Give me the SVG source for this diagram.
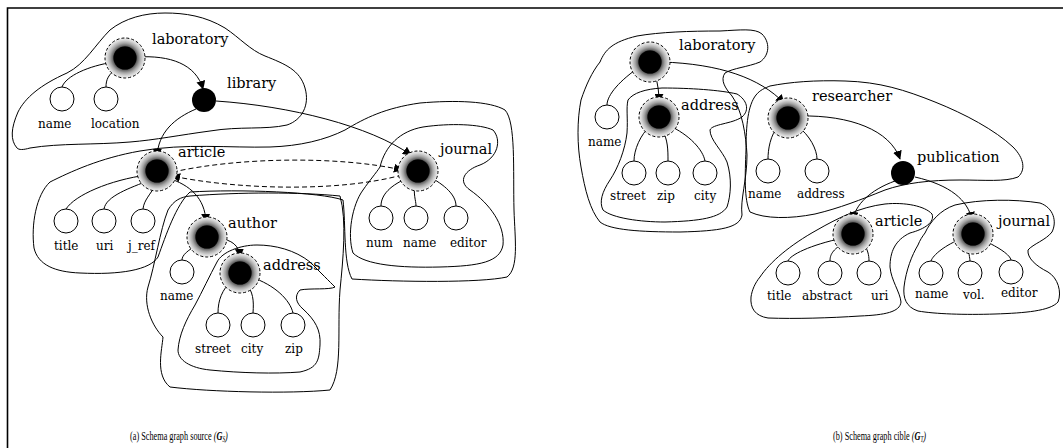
<svg xmlns="http://www.w3.org/2000/svg" width="1063" height="448" viewBox="0 0 1063 448">
<style>
.frame{fill:none;stroke:#000;stroke-width:1.6}
.blob{fill:none;stroke:#000;stroke-width:1}
.edge{fill:none;stroke:#000;stroke-width:1}
.arr{marker-end:url(#ah)}
.dash{stroke-dasharray:5 3}
.leaf{fill:#fff;stroke:#000;stroke-width:1}
.core{fill:#000}
.ring{fill:url(#halo);stroke:#000;stroke-width:1;stroke-dasharray:3 2}
.lbl{font-family:"DejaVu Serif","Liberation Serif",serif;font-size:14.5px;fill:#000}
.sm{font-family:"DejaVu Serif","Liberation Serif",serif;font-size:12px;fill:#000}
.cap{font-family:"Liberation Serif",serif;font-size:12.5px;fill:#000}
</style>
<defs>
<radialGradient id="halo" cx="0.5" cy="0.5" r="0.5">
<stop offset="0" stop-color="#000"/>
<stop offset="0.56" stop-color="#333"/>
<stop offset="0.62" stop-color="#6a6a6a"/>
<stop offset="0.74" stop-color="#a4a4a4"/>
<stop offset="0.88" stop-color="#d4d4d4"/>
<stop offset="1" stop-color="#f0f0f0"/>
</radialGradient>
<marker id="ah" viewBox="0 0 10 10" refX="9" refY="5" markerWidth="9" markerHeight="9" markerUnits="userSpaceOnUse" orient="auto">
<path d="M0,0 L10,5 L0,10 Z" fill="#000"/>
</marker>
<g id="cn">
<circle r="20" class="ring"/>
<circle r="11.5" class="core"/>
</g>
</defs>
<rect width="1063" height="448" fill="#fff"/>
<path class="frame" d="M7.5,448 V8 H1063"/>

<g id="clusters">
<!-- left: laboratory -->
<path class="blob" d="M17,148 C10,140 11,128 18,112 C25,98 40,85 67,73 C85,64 95,45 110,30 C125,18 145,13 165,13 C185,13 205,16 225,28 C240,38 250,50 265,56 C285,64 300,70 305,88 C310,105 302,120 287,125 C265,130 240,126 210,131 C180,135 155,140 130,142 C95,145 60,143 30,148 C23,150 19,150 17,148 Z"/>
<!-- left: article (with journal) -->
<path class="blob" d="M50,182 C70,172 100,158 140,151 C185,143 230,148 270,147 C300,146 325,140 345,130 C365,118 385,108 420,103 C455,100 490,101 505,110 C516,122 513,170 514,210 C515,240 519,268 507,277 C480,283 400,282 352,279 C343,262 346,225 343,200 C320,192 240,189 190,192 C176,205 166,235 158,257 C150,270 120,275 80,273 C55,272 38,265 34,248 C31,225 36,195 50,182 Z"/>
<!-- left: journal inner -->
<path class="blob" d="M380,167 C385,146 400,131 423,127 C450,123 480,124 493,130 C502,140 498,158 480,165 C465,170 457,181 470,190 C490,204 505,225 503,245 C500,262 480,266 440,267 C400,268 365,265 353,253 C347,235 352,205 363,190 C370,180 376,173 380,167 Z"/>
<!-- left: author -->
<path class="blob" d="M190,196 C240,192 300,192 340,196 C347,220 343,260 340,290 C337,330 343,370 330,390 C290,394 210,392 170,387 C155,375 162,350 163,337 C152,326 143,305 148,287 C155,265 160,230 168,210 C174,200 181,197 190,196 Z"/>
<!-- left: address -->
<path class="blob" d="M217,262 C222,252 240,245 257,245 C275,245 295,250 310,262 C320,272 330,282 335,287 C330,290 310,288 300,290 C294,296 296,303 303,309 C315,320 321,330 320,345 C319,360 318,368 300,372 C275,374 240,373 210,370 C190,368 178,360 178,350 C179,335 186,320 195,305 C202,292 210,275 217,262 Z"/>

<!-- right: laboratory -->
<path class="blob" d="M600,62 C605,50 612,42 637,36 C660,32 690,31 720,31 C740,30 755,28 762,34 C770,42 770,55 760,62 C748,67 733,68 725,73 C720,80 725,88 732,96 C742,110 746,135 747,155 C747,180 740,200 742,215 C740,228 720,231 680,232 C640,232 610,230 600,222 C590,210 585,190 581,167 C577,145 577,120 581,100 C586,85 592,72 600,62 Z"/>
<!-- right: address -->
<path class="blob" d="M628,100 C633,93 645,89 662,88 C690,88 720,90 737,94 C747,100 750,110 742,117 C732,124 712,124 710,130 C710,140 722,150 727,162 C732,178 731,195 727,207 C720,218 700,221 665,222 C640,222 612,218 603,210 C599,202 602,192 610,180 C618,168 625,150 627,133 C628,118 626,108 628,100 Z"/>
<!-- right: researcher -->
<path class="blob" d="M770,86 C790,82 815,80 845,81 C880,82 905,90 935,102 C965,114 995,130 1013,147 C1024,158 1026,170 1018,177 C1005,182 985,180 960,180 C930,180 905,183 885,190 C860,200 840,208 815,214 C790,219 765,219 750,212 C744,200 745,175 746,150 C746,125 748,105 756,95 C760,90 765,88 770,86 Z"/>
<!-- right: article -->
<path class="blob" d="M760,277 C770,262 790,245 817,230 C838,218 860,207 885,204 C905,202 925,206 932,214 C935,222 925,229 910,233 C895,240 890,252 890,267 C891,280 900,292 901,302 C900,312 885,315 860,316 C830,318 795,319 768,318 C755,316 750,308 751,297 C752,290 755,283 760,277 Z"/>
<!-- right: journal -->
<path class="blob" d="M925,233 C930,222 940,210 955,205 C980,199 1015,199 1040,203 C1054,208 1057,222 1052,232 C1046,240 1033,244 1028,250 C1027,258 1036,266 1048,272 C1058,278 1062,292 1058,302 C1050,311 1025,313 995,314 C965,315 935,314 918,311 C906,307 903,298 904,287 C906,270 912,255 918,245 C920,240 922,237 925,233 Z"/>
</g>

<g id="connectors">
<!-- left -->
<path class="edge" d="M114,62 C88,66 66,76 62,87"/>
<path class="edge" d="M118,68 C108,74 106,80 106,87"/>
<path class="edge arr" d="M137,57 C170,55 196,64 203,89"/>
<path class="edge arr" d="M196,109 C175,118 158,132 157,157"/>
<path class="edge arr" d="M216,101 C290,106 370,126 411,155"/>
<path class="edge dash arr" d="M173,172 C240,157 340,156 402,170"/>
<path class="edge dash arr" d="M402,175 C340,192 240,190 172,176"/>
<path class="edge" d="M147,175 C110,180 75,195 66,209"/>
<path class="edge" d="M150,180 C130,188 106,196 104,209"/>
<path class="edge" d="M157,183 C150,195 144,200 143,209"/>
<path class="edge arr" d="M168,178 C190,185 205,198 206,222"/>
<path class="edge" d="M199,244 C188,250 182,255 182,260"/>
<path class="edge arr" d="M218,238 C232,240 239,245 240,257"/>
<path class="edge" d="M232,280 C222,290 218,300 218,313"/>
<path class="edge" d="M246,283 C253,292 254,300 253,313"/>
<path class="edge" d="M251,277 C275,285 290,300 293,313"/>
<path class="edge" d="M410,177 C390,185 381,195 381,206"/>
<path class="edge" d="M415,183 C413,195 416,200 416,206"/>
<path class="edge" d="M428,176 C445,185 456,195 456,206"/>
<!-- right -->
<path class="edge" d="M641,66 C620,80 607,95 607,105"/>
<path class="edge arr" d="M655,74 C658,85 659,92 659,102"/>
<path class="edge arr" d="M662,62 C720,64 760,78 784,103"/>
<path class="edge" d="M651,125 C640,135 634,150 634,161"/>
<path class="edge" d="M662,129 C668,140 668,150 668,161"/>
<path class="edge" d="M668,125 C690,135 703,150 705,161"/>
<path class="edge" d="M779,125 C770,135 768,150 768,159"/>
<path class="edge" d="M797,126 C810,135 817,150 817,159"/>
<path class="edge arr" d="M800,116 C850,115 890,130 900,159"/>
<path class="edge arr" d="M895,181 C870,190 855,205 853,220"/>
<path class="edge arr" d="M915,177 C950,185 968,200 972,220"/>
<path class="edge" d="M843,238 C810,245 790,255 788,261"/>
<path class="edge" d="M845,242 C832,250 830,255 830,261"/>
<path class="edge" d="M862,240 C868,250 869,255 869,261"/>
<path class="edge" d="M963,238 C945,245 933,255 931,261"/>
<path class="edge" d="M969,245 C968,252 970,258 970,261"/>
<path class="edge" d="M983,240 C1000,248 1010,255 1011,260"/>
</g>

<!-- left nodes -->
<g id="s-laboratory"><use href="#cn" x="125" y="58"/><text class="lbl" x="152" y="44">laboratory</text></g>
<g id="s-name1"><circle class="leaf" cx="62" cy="99" r="12"/><text class="sm" x="38" y="128">name</text></g>
<g id="s-location"><circle class="leaf" cx="106" cy="99" r="12"/><text class="sm" x="91" y="128">location</text></g>
<g id="s-library"><circle class="core" cx="204" cy="100" r="12"/><text class="lbl" x="227" y="88">library</text></g>
<g id="s-article"><use href="#cn" x="157" y="171"/><text class="lbl" x="178" y="157">article</text></g>
<g id="s-title"><circle class="leaf" cx="66" cy="221" r="12"/><text class="sm" x="54" y="250">title</text></g>
<g id="s-uri"><circle class="leaf" cx="104" cy="221" r="12"/><text class="sm" x="96" y="250">uri</text></g>
<g id="s-jref"><circle class="leaf" cx="143" cy="221" r="12"/><text class="sm" x="128" y="250">j_ref</text></g>
<g id="s-journal"><use href="#cn" x="418" y="171"/><text class="lbl" x="440" y="154">journal</text></g>
<g id="s-num"><circle class="leaf" cx="381" cy="218" r="12"/><text class="sm" x="366" y="247">num</text></g>
<g id="s-jname"><circle class="leaf" cx="416" cy="218" r="12"/><text class="sm" x="403" y="247">name</text></g>
<g id="s-editor"><circle class="leaf" cx="456" cy="218" r="12"/><text class="sm" x="450" y="247">editor</text></g>
<g id="s-author"><use href="#cn" x="207" y="237"/><text class="lbl" x="228" y="228">author</text></g>
<g id="s-aname"><circle class="leaf" cx="182" cy="272" r="12"/><text class="sm" x="160" y="300">name</text></g>
<g id="s-address"><use href="#cn" x="240" y="273"/><text class="lbl" x="263" y="270">address</text></g>
<g id="s-street"><circle class="leaf" cx="218" cy="325" r="12"/><text class="sm" x="195" y="353">street</text></g>
<g id="s-city"><circle class="leaf" cx="253" cy="325" r="12"/><text class="sm" x="241" y="353">city</text></g>
<g id="s-zip"><circle class="leaf" cx="293" cy="325" r="12"/><text class="sm" x="285" y="353">zip</text></g>

<!-- right nodes -->
<g id="t-laboratory"><use href="#cn" x="650" y="62"/><text class="lbl" x="679" y="50">laboratory</text></g>
<g id="t-name1"><circle class="leaf" cx="607" cy="117" r="12"/><text class="sm" x="588" y="146">name</text></g>
<g id="t-address"><use href="#cn" x="659" y="117"/><text class="lbl" x="681" y="110">address</text></g>
<g id="t-street"><circle class="leaf" cx="634" cy="173" r="12"/><text class="sm" x="610" y="200">street</text></g>
<g id="t-zip"><circle class="leaf" cx="668" cy="173" r="12"/><text class="sm" x="657" y="200">zip</text></g>
<g id="t-city"><circle class="leaf" cx="705" cy="173" r="12"/><text class="sm" x="694" y="200">city</text></g>
<g id="t-researcher"><use href="#cn" x="788" y="118"/><text class="lbl" x="812" y="101">researcher</text></g>
<g id="t-rname"><circle class="leaf" cx="768" cy="171" r="12"/><text class="sm" x="748" y="198">name</text></g>
<g id="t-raddress"><circle class="leaf" cx="817" cy="171" r="12"/><text class="sm" x="797" y="198">address</text></g>
<g id="t-publication"><circle class="core" cx="903" cy="173" r="12"/><text class="lbl" x="917" y="162">publication</text></g>
<g id="t-article"><use href="#cn" x="853" y="234"/><text class="lbl" x="875" y="226">article</text></g>
<g id="t-title"><circle class="leaf" cx="788" cy="273" r="12"/><text class="sm" x="767" y="300">title</text></g>
<g id="t-abstract"><circle class="leaf" cx="830" cy="273" r="12"/><text class="sm" x="802" y="300">abstract</text></g>
<g id="t-uri"><circle class="leaf" cx="869" cy="273" r="12"/><text class="sm" x="871" y="300">uri</text></g>
<g id="t-journal"><use href="#cn" x="973" y="234"/><text class="lbl" x="998" y="226">journal</text></g>
<g id="t-jname"><circle class="leaf" cx="931" cy="273" r="12"/><text class="sm" x="915" y="298">name</text></g>
<g id="t-vol"><circle class="leaf" cx="970" cy="273" r="12"/><text class="sm" x="963" y="299">vol.</text></g>
<g id="t-editor"><circle class="leaf" cx="1011" cy="272" r="12"/><text class="sm" x="1001" y="297">editor</text></g>

<g id="captions">
<text class="cap" transform="translate(130,440) scale(0.66,1)">(a) Schema graph source <tspan font-style="italic">(<tspan font-weight="bold">G</tspan><tspan font-size="8" dy="2">S</tspan><tspan dy="-2">)</tspan></tspan></text>
<text class="cap" transform="translate(833,440) scale(0.66,1)">(b) Schema graph cible <tspan font-style="italic">(<tspan font-weight="bold">G</tspan><tspan font-size="8" dy="2">T</tspan><tspan dy="-2">)</tspan></tspan></text>
</g>
</svg>
